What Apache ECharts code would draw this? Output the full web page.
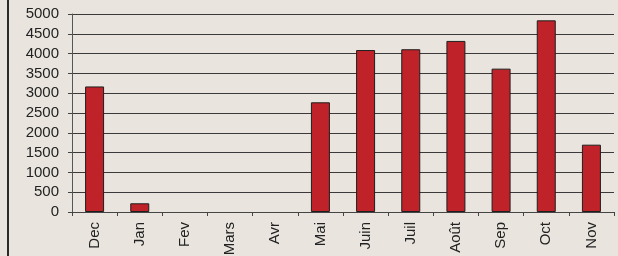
<!DOCTYPE html>
<html>
<head>
<meta charset="utf-8">
<script src="https://cdn.jsdelivr.net/npm/echarts@6/dist/echarts.min.js"></script>
<style>
  html, body { margin: 0; padding: 0; background: #e9e5de; }
  #chart { width: 618px; height: 256px; }
</style>
</head>
<body>
<div id="chart"></div>
<script>
// mois (décembre à novembre)
var months = ["Dec", "Jan", "Fev", "Mars", "Avr", "Mai", "Juin", "Juil", "Août", "Sep", "Oct", "Nov"];
var values = [3170, 220, 0, 0, 0, 2770, 4090, 4110, 4320, 3620, 4840, 1700];
var yTicks = [0, 500, 1000, 1500, 2000, 2500, 3000, 3500, 4000, 4500, 5000];

var chart = echarts.init(document.getElementById("chart"));

// pas de contour pour les mois à zéro
var barData = values.map(function (v) {
  return v === 0 ? { value: v, itemStyle: { borderWidth: 0 } } : v;
});

var option = {
  backgroundColor: "#e9e5de",
  animation: false,
  textStyle: { fontFamily: "Liberation Sans, Arial, sans-serif" },
  graphic: [
    {
      type: "line",
      shape: { x1: 8, y1: 0, x2: 8, y2: 256 },
      style: { stroke: "#2a2a2a", lineWidth: 2 }
    }
  ],
  grid: {
    left: 72,
    right: 4,
    top: 14,
    bottom: 44,
    containLabel: false,
    outerBoundsMode: "none"
  },
  xAxis: {
    type: "category",
    data: months,
    axisLine: { lineStyle: { color: "#444", width: 1 } },
    axisTick: { show: true, length: 4, lineStyle: { color: "#444" } },
    axisLabel: {
      rotate: 90,
      margin: 10,
      color: "#222",
      fontSize: 15
    }
  },
  yAxis: {
    type: "value",
    min: yTicks[0],
    max: yTicks[yTicks.length - 1],
    interval: 500,
    axisLine: { show: true, lineStyle: { color: "#555", width: 1 } },
    axisTick: { show: true, length: 4, lineStyle: { color: "#444" } },
    axisLabel: {
      color: "#222",
      fontSize: 15,
      margin: 13,
      formatter: function (v) { return String(v); }
    },
    splitLine: { lineStyle: { color: "#3a3a3a", width: 1 } }
  },
  series: [
    {
      type: "bar",
      data: barData,
      barWidth: 19,
      itemStyle: {
        color: "#bf2329",
        borderColor: "#1e1e1e",
        borderWidth: 1
      }
    }
  ]
};

chart.setOption(option);
</script>
</body>
</html>
